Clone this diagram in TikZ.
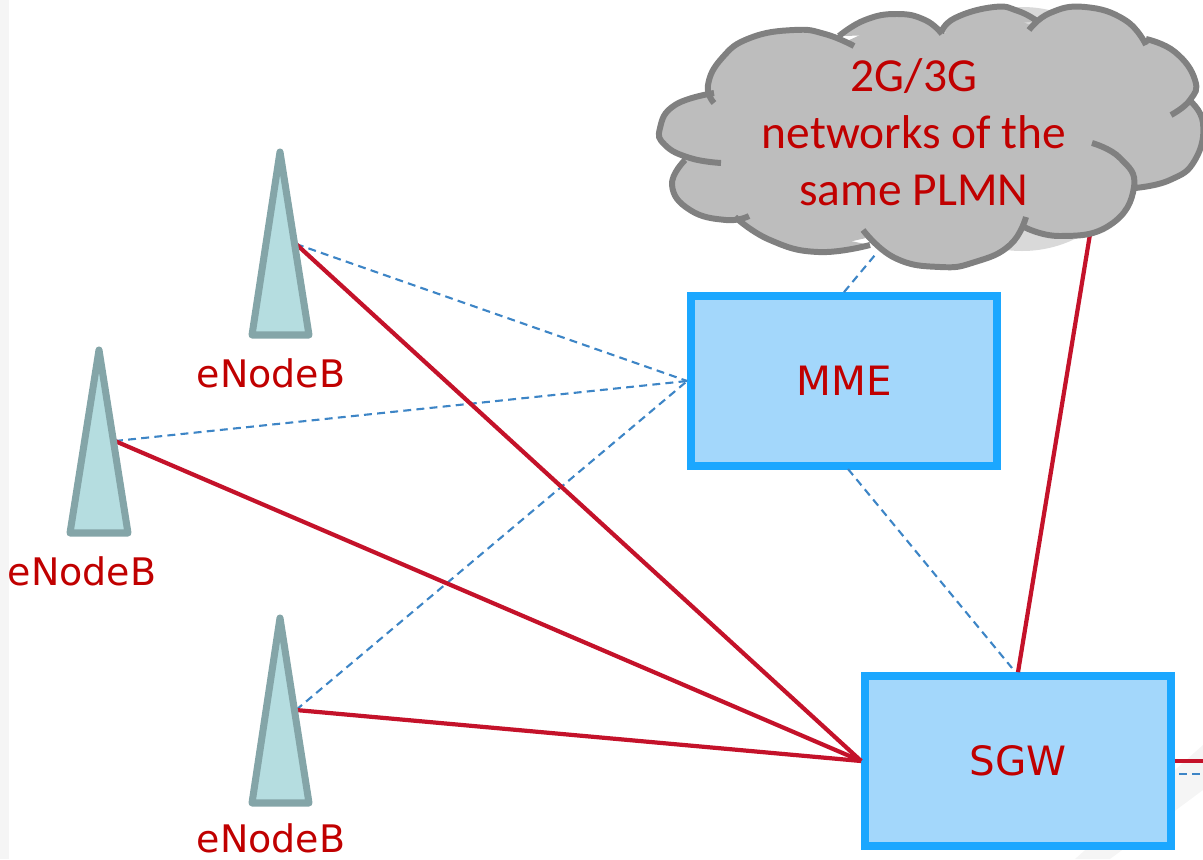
\documentclass[tikz,border=0pt]{standalone}
\usepackage{fontspec}
\setmainfont{DejaVu Sans}
\newfontfamily\cloudfont{Carlito}
\definecolor{boxblue}{HTML}{1BA7FF}
\definecolor{boxfill}{HTML}{A3D7FB}
\definecolor{towerline}{HTML}{84A5A8}
\definecolor{towerfill}{HTML}{B5DDE0}
\definecolor{sgired}{HTML}{C4122A}
\definecolor{textred}{HTML}{C00000}
\definecolor{dashblue}{HTML}{3D85C6}
\definecolor{cloudgray}{HTML}{BDBDBD}
\tikzset{
    netbox/.style={draw=boxblue, fill=boxfill, line width=4.4pt, minimum width=6.12cm, minimum height=3.4cm, text=textred, font=\fontsize{23}{27}\selectfont},
    tower/.style={draw=towerline, fill=towerfill, line width=4pt, line join=round},
    towerlabel/.style={text=textred, inner sep=0pt, font=\fontsize{21.6}{25}\selectfont},
    userline/.style={draw=sgired, line width=2.4pt},
    ctrlline/.style={draw=dashblue, line width=1.2pt, dash pattern=on 4.5pt off 3pt},
    cloudline/.style={draw=gray, fill=cloudgray, line width=3.4pt},
}
\begin{document}
\begin{tikzpicture}[x=0.02cm, y=-0.02cm]
    \useasboundingbox (0,0) rectangle (1203,859);

    % Faint background behind the slide
    \fill[black!4] (0,0) rectangle (9,859);
    \fill[black!4] (1203,745) -- (1203,790) -- (1110,859) -- (1075,859) -- cycle;
    \fill[black!15] (1022,129) circle (122);

    % Connection points on the towers and behind the cloud
    \coordinate (portA) at (296,244);
    \coordinate (portB) at (115,441);
    \coordinate (portC) at (296,710);
    \coordinate (cloudctrl) at (875,255);
    \coordinate (clouduser) at (1091,228);
    \coordinate (exituser) at (1203,761);
    \coordinate (exitctrl) at (1203,774);
    \coordinate (startctrl) at (1179,774);
    \coordinate (mmectrl) at (848,469);
    \coordinate (sgwctrl) at (1012,668);

    % Boxes
    \node[netbox] (mme) at (844,381) {MME};
    \node[netbox] (sgw) at (1018,761) {SGW};

    % Control plane links
    \draw[ctrlline] (portA) -- (mme.west);
    \draw[ctrlline] (portB) -- (mme.west);
    \draw[ctrlline] (portC) -- (mme.west);
    \draw[ctrlline] (mme.north) -- (cloudctrl);
    \draw[ctrlline] (mmectrl) -- (sgwctrl);
    \draw[ctrlline] (startctrl) -- (exitctrl);

    % User plane links
    \draw[userline] (portA) -- (sgw.west);
    \draw[userline] (portB) -- (sgw.west);
    \draw[userline] (portC) -- (sgw.west);
    \draw[userline] (sgw.north) -- (clouduser);
    \draw[userline] (sgw.east) -- (exituser);

    % Towers with their labels
    \draw[tower] (280,152) -- (309,335) -- (252,335) -- cycle;
    \draw[tower] (99,350) -- (128,533) -- (70,533) -- cycle;
    \draw[tower] (280,618) -- (309,803) -- (252,803) -- cycle;
    \node[towerlabel] (enbA) at (271,373) {eNodeB};
    \node[towerlabel] (enbB) at (82,571) {eNodeB};
    \node[towerlabel] (enbC) at (271,838) {eNodeB};

    % Cloud, filled in the middle and then lobe by lobe
    \fill[cloudgray] (714,100) -- (730,60) -- (800,35) -- (845,42) -- (897,18) -- (942,34) -- (994,11) -- (1033,26) -- (1085,11) -- (1130,28) -- (1147,42) -- (1175,56) -- (1188,100) -- (1195,155) -- (1135,188) -- (1110,222) -- (1022,228) -- (1010,243) -- (940,264) -- (880,250) -- (866,238) -- (818,249) -- (735,217) -- (726,217) -- (690,208) -- (674,185) -- (685,160) -- (664,130) -- (700,97) -- cycle;
    \draw[cloudline, line cap=butt]
        plot[smooth, tension=0.8] coordinates {(714,103) (708,85) (722,58) (750,38) (794,30) (825,34) (854,46)}
        plot[smooth, tension=0.8] coordinates {(839,36) (865,20) (897,14) (925,20) (942,34)}
        plot[smooth, tension=0.8] coordinates {(941,33) (955,18) (994,7) (1018,11) (1037,21)}
        plot[smooth, tension=0.8] coordinates {(1029,30) (1050,13) (1085,7) (1125,20) (1146,45)}
        plot[smooth, tension=0.8] coordinates {(1146,39) (1175,52) (1195,80) (1190,100) (1171,115)}
        plot[smooth, tension=0.8] coordinates {(1189,100) (1203,123) (1195,160) (1170,180) (1135,188)}
        plot[smooth, tension=0.8] coordinates {(1092,143) (1120,158) (1134,187) (1110,225) (1060,236) (1022,226)}
        plot[smooth, tension=0.8] coordinates {(1026,217) (1010,245) (975,262) (940,267) (895,258) (863,230)}
        plot[smooth, tension=0.8] coordinates {(870,245) (818,252) (770,240) (735,217)}
        plot[smooth, tension=0.8] coordinates {(749,216) (726,220) (690,210) (672,185) (685,160)}
        plot[smooth, tension=0.8] coordinates {(721,163) (690,158) (665,145) (660,128) (675,105) (714,93)};
    \node[text=textred, align=center, font=\cloudfont\fontsize{27}{32.4}\selectfont] (plmn) at (914,132) {2G/3G\\networks of the\\same PLMN};
\end{tikzpicture}
\end{document}
